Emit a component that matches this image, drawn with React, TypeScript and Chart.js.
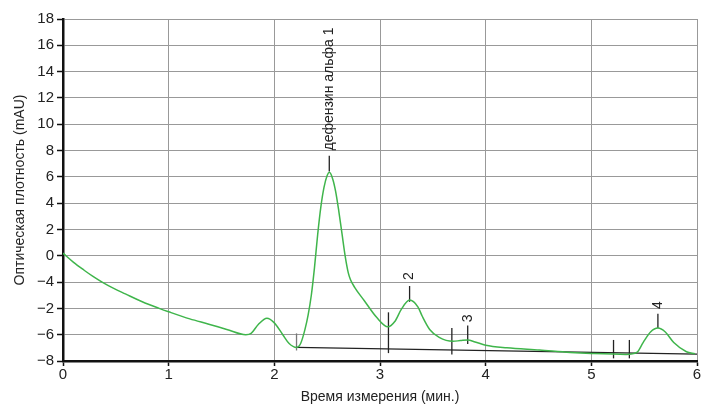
import React, { useEffect, useRef } from "react";
import { Chart, registerables } from "chart.js";

Chart.register(...registerables);

// Chromatogram trace (time in min, optical density in mAU)
const timeMin = [
  0, 0.1, 0.2, 0.28, 0.37, 0.48, 0.59, 0.75, 0.91, 1.0, 1.2, 1.38, 1.55, 1.73, 1.78, 1.85, 1.93, 2.0,
  2.08, 2.14, 2.21, 2.25, 2.29, 2.32, 2.35, 2.38, 2.41, 2.44, 2.47, 2.5, 2.52, 2.55, 2.58, 2.61, 2.64,
  2.67, 2.7, 2.72, 2.76, 2.85, 2.97, 3.074, 3.14, 3.2, 3.28, 3.36, 3.4, 3.47, 3.56, 3.69, 3.76, 3.83,
  3.9, 4.0, 4.2, 4.51, 4.8, 5.0, 5.33, 5.43, 5.49, 5.56, 5.63, 5.7, 5.78, 5.9, 5.98,
];
const absorbance = [
  0.2, -0.5, -1.1, -1.55, -2.0, -2.48, -2.9, -3.5, -4.0, -4.26, -4.8, -5.2, -5.6, -6.0, -5.9, -5.2, -4.75, -5.1,
  -6.0, -6.67, -6.97, -6.65, -5.6, -4.5, -3.0, -0.9, 1.6, 3.7, 5.2, 6.1, 6.34, 5.9, 4.9, 3.4, 1.7,
  0.0, -1.3, -1.8, -2.4, -3.4, -4.7, -5.4, -5.0, -4.1, -3.37, -3.9, -4.6, -5.6, -6.2, -6.5, -6.45, -6.4,
  -6.55, -6.8, -7.0, -7.17, -7.35, -7.43, -7.5, -7.35, -6.6, -5.8, -5.5, -5.8, -6.6, -7.3, -7.45,
];

// Integration baseline
const baselineX = [2.21, 6.0];
const baselineY = [-6.97, -7.47];

// Vertical integration / peak markers
const markerX = [2.21, 3.08, 3.68, 5.21, 5.36, 2.52, 3.28, 3.83, 5.63];
const markerTop = [-5.9, -4.3, -5.5, -6.4, -6.4, 7.6, -2.3, -5.3, -4.4];
const markerBottom = [-7.2, -7.4, -7.5, -7.8, -7.8, 6.4, -3.5, -6.7, -5.5];

// Peak labels
const peakLabels = ["дефензин альфа 1", "2", "3", "4"];
const peakLabelX = [2.52, 3.28, 3.83, 5.63];
const peakLabelY = [8.0, -1.85, -5.05, -4.05];

// Axis ticks (as printed on the original)
const yTickValues = [-8, -6, -4, -2, 0, 2, 4, 6, 8, 10, 12, 14, 16, 18];
const yTickLabels = ["−8", "−6", "−2", "−4", "0", "2", "4", "6", "8", "10", "12", "14", "16", "18"];
const xTickValues = [0, 1, 2, 3, 4, 5, 6];

const xTitle = "Время измерения (мин.)";
const yTitle = "Оптическая плотность (mAU)";

const GREEN = "#3fb54b";
const FONT = "'Liberation Sans', Arial, sans-serif";

const labelPlugin = {
  id: "peakLabels",
  afterDatasetsDraw(chart: any) {
    const { ctx, scales } = chart;
    ctx.save();
    ctx.fillStyle = "#222";
    ctx.font = "14px " + FONT;
    ctx.textAlign = "left";
    ctx.textBaseline = "middle";
    peakLabels.forEach((t, i) => {
      const px = scales.x.getPixelForValue(peakLabelX[i]);
      const py = scales.y.getPixelForValue(peakLabelY[i]);
      ctx.save();
      ctx.translate(px, py);
      ctx.rotate(-Math.PI / 2);
      ctx.fillText(t, 0, 0);
      ctx.restore();
    });
    ctx.restore();
  },
};

export default function App() {
  const ref = useRef<HTMLCanvasElement | null>(null);

  useEffect(() => {
    if (!ref.current) return;
    const markerSets = markerX.map((x, i) => ({
      type: "line" as const,
      data: [
        { x, y: markerBottom[i] },
        { x, y: markerTop[i] },
      ],
      borderColor: i === 0 ? "#777" : "#222",
      borderWidth: 1.3,
      pointRadius: 0,
      tension: 0,
    }));
    const chart = new Chart(ref.current, {
      type: "line",
      data: {
        datasets: [
          {
            data: timeMin.map((x, i) => ({ x, y: absorbance[i] })),
            borderColor: GREEN,
            borderWidth: 1.5,
            pointRadius: 0,
            cubicInterpolationMode: "monotone",
          },
          {
            data: baselineX.map((x, i) => ({ x, y: baselineY[i] })),
            borderColor: "#222",
            borderWidth: 1.2,
            pointRadius: 0,
          },
          ...markerSets,
        ] as any,
      },
      plugins: [labelPlugin],
      options: {
        animation: false,
        responsive: false,
        layout: { padding: { left: 0, top: 19, right: 6, bottom: 0 } },
        plugins: { legend: { display: false }, tooltip: { enabled: false } },
        scales: {
          x: {
            type: "linear",
            min: 0,
            max: 6,
            afterBuildTicks: (s: any) => {
              s.ticks = xTickValues.map((v) => ({ value: v }));
            },
            afterFit: (s: any) => {
              s.height = 47;
            },
            ticks: {
              color: "#222",
              font: { size: 15, family: FONT },
              padding: 0,
              maxRotation: 0,
            },
            grid: {
              color: "#999",
              lineWidth: 1,
              tickLength: 5,
              tickColor: "#111",
              tickWidth: 1.5,
            },
            border: { color: "#111", width: 2.5 },
            title: {
              display: true,
              text: xTitle,
              color: "#222",
              font: { size: 14, family: FONT },
              padding: { top: 0, bottom: 2 },
            },
          },
          y: {
            type: "linear",
            min: -8,
            max: 18,
            afterBuildTicks: (s: any) => {
              s.ticks = yTickValues.map((v) => ({ value: v }));
            },
            afterFit: (s: any) => {
              s.width = 63;
            },
            ticks: {
              color: "#222",
              font: { size: 15, family: FONT },
              padding: 3,
              callback: (v: any) => {
                const i = yTickValues.indexOf(Number(v));
                return i >= 0 ? yTickLabels[i] : "";
              },
            },
            grid: {
              color: "#999",
              lineWidth: 1,
              tickLength: 6,
              tickColor: "#111",
              tickWidth: 1.5,
            },
            border: { color: "#111", width: 2.5 },
            title: {
              display: true,
              text: yTitle,
              color: "#222",
              font: { size: 14, family: FONT },
              padding: { top: 12, bottom: 0 },
            },
          },
        },
      },
    });
    return () => chart.destroy();
  }, []);

  return (
    <div style={{ position: "fixed", left: 0, top: 0, width: 703, height: 408, background: "#fff" }}>
      <canvas ref={ref} width={703} height={408} style={{ display: "block" }} />
    </div>
  );
}
